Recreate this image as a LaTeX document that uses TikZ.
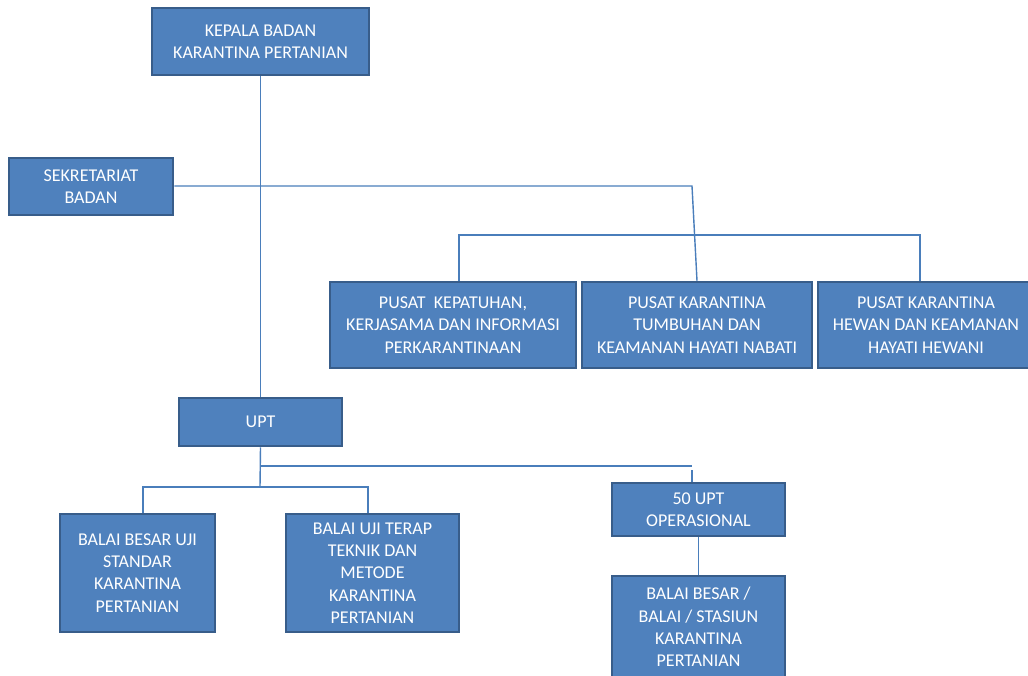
\documentclass[tikz,border=0pt]{standalone}
\usepackage{fontspec}
\setmainfont{Carlito}
\definecolor{boxfill}{HTML}{4F81BD}
\definecolor{boxline}{HTML}{385D8A}
\definecolor{conn}{HTML}{4A7EBB}
\begin{document}
\begin{tikzpicture}[x=1pt,y=-1pt,
  orgbox/.style={draw=boxline, fill=boxfill, line width=2.5pt, text=white,
    align=center, inner sep=0pt, font=\fontsize{18}{22.3}\selectfont},
  link/.style={draw=conn, line width=1.4pt}]
\useasboundingbox (0,0) rectangle (1028,675);
\clip (0,0) rectangle (1028,675);
\fill[white] (0,0) rectangle (1028,675);
\node[orgbox, minimum width=217pt, minimum height=67pt] (kepala) at (260.5,41.5) {KEPALA BADAN\\KARANTINA PERTANIAN};
\node[orgbox, minimum width=164pt, minimum height=57pt] (sek) at (91,186.5) {SEKRETARIAT\\BADAN};
\node[orgbox, minimum width=246pt, minimum height=86pt] (p1) at (453,325) {PUSAT\ \ KEPATUHAN,\\KERJASAMA DAN INFORMASI\\PERKARANTINAAN};
\node[orgbox, minimum width=230pt, minimum height=86pt] (p2) at (697,325) {PUSAT KARANTINA\\TUMBUHAN DAN\\KEAMANAN HAYATI NABATI};
\node[orgbox, minimum width=216pt, minimum height=86pt] (p3) at (926,325) {PUSAT KARANTINA\\HEWAN DAN KEAMANAN\\HAYATI HEWANI};
\node[orgbox, minimum width=163pt, minimum height=48pt] (upt) at (260.5,422) {UPT};
\node[orgbox, minimum width=155pt, minimum height=118pt] (b1) at (137.5,573) {BALAI BESAR UJI\\STANDAR\\KARANTINA\\PERTANIAN};
\node[orgbox, minimum width=173pt, minimum height=118pt] (b2) at (372.5,573) {BALAI UJI TERAP\\TEKNIK DAN\\METODE\\KARANTINA\\PERTANIAN};
\node[orgbox, minimum width=173pt, minimum height=53pt] (u50) at (698.5,509.5) {50 UPT\\OPERASIONAL};
\node[orgbox, minimum width=173pt, minimum height=102pt] (bb) at (698.5,627) {BALAI BESAR /\\BALAI / STASIUN\\KARANTINA\\PERTANIAN};
% connectors
\coordinate (s1) at (692,186);
\coordinate (h1) at (459,235);
\coordinate (h2) at (920,235);
\coordinate (u1) at (260,466);
\coordinate (u2) at (692,466);
\coordinate (u3) at (260,487);
\coordinate (l1) at (143,487);
\coordinate (l2) at (368,487);
\draw[link] (kepala.south) -- (upt.north);
\draw[link] (sek.east |- s1) -- (s1) -- (p2.north);
\draw[link] (h1 |- p1.north) -- (h1) -- (h2) -- (h2 |- p3.north);
\draw[link] (upt.south) -- (u3);
\draw[link] (u1) -- (u2);
\draw[link] ([yshift=-4pt]u2) -- (u2 |- u50.north);
\draw[link] (l1 |- b1.north) -- (l1) -- (l2) -- (l2 |- b2.north);
\draw[link] (u50.south) -- (bb.north);
\end{tikzpicture}
\end{document}
